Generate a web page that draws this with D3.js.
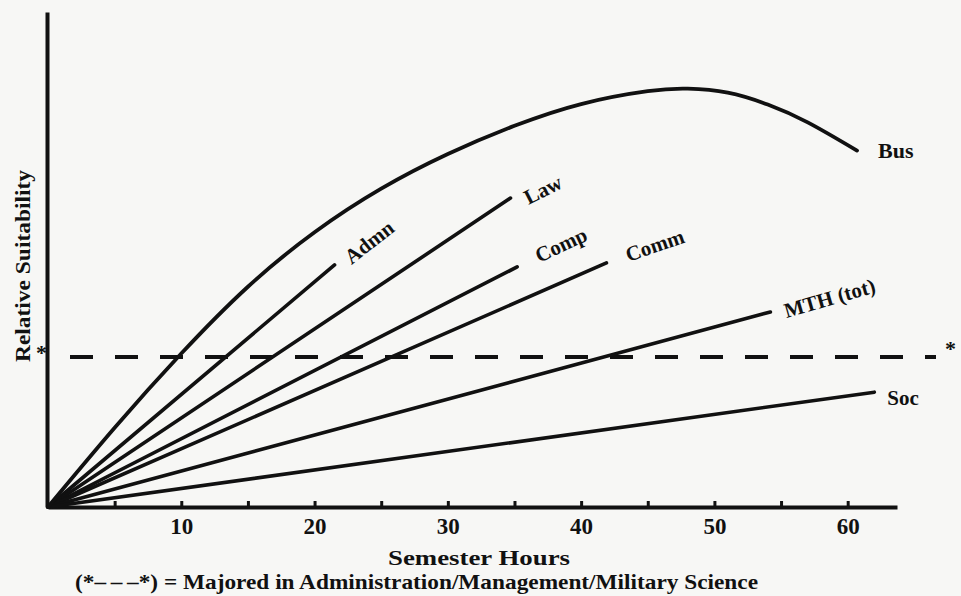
<!DOCTYPE html>
<html>
<head>
<meta charset="utf-8">
<script src="https://cdn.jsdelivr.net/npm/d3@7"></script>
<style>
  body { margin: 0; background: #f7f7f5; }
  svg { display: block; }
  text { font-family: "Liberation Serif", "DejaVu Serif", serif; font-weight: bold; fill: #111; }
</style>
</head>
<body>
<div id="chart"></div>
<script>
// semester hours vs relative suitability (arbitrary 0-100 units, axis has no numbers)
var hourTicks = [5, 10, 15, 20, 25, 30, 35, 40, 45, 50, 55, 60];
var hourLabels = [10, 20, 30, 40, 50, 60];

var busHours  = [0, 5, 10, 15, 20, 25, 30, 35, 40, 45, 48, 51, 54, 57, 60.7];
var busValues = [0, 16, 31, 44.5, 55.5, 64.3, 71.3, 77, 81.4, 84.0, 84.5, 83.7, 81.3, 77.7, 72];

// straight lines from the origin: name, last hour, last value
var lineNames  = ["Admn", "Law", "Comp", "Comm", "MTH (tot)", "Soc"];
var lineHours  = [21.5, 34.7, 35.2, 41.9, 54.2, 62.0];
var lineValues = [48.9, 62.4, 48.5, 49.3, 39.4, 23.2];

var majorLevel = 30.3; // (*---*) majored in admin/management/military science

var width = 961, height = 596;

var svg = d3.select("#chart").append("svg")
    .attr("width", width)
    .attr("height", height);

var x = d3.scaleLinear().domain([0, 63.7]).range([48, 897]);
var y = d3.scaleLinear().domain([0, 100]).range([507, 12]);

var line = d3.line()
    .x(function(d){ return x(d[0]); })
    .y(function(d){ return y(d[1]); });

// x axis, ticks point up, labels only every 10
var xAxis = d3.axisBottom(x)
    .tickValues(hourTicks)
    .tickSize(-6)
    .tickSizeOuter(0)
    .tickPadding(11)
    .tickFormat(function(d){ return hourLabels.indexOf(d) >= 0 ? d : ""; });

var gx = svg.append("g")
    .attr("transform", "translate(0," + y(0) + ")")
    .call(xAxis);
gx.select(".domain").attr("stroke", "#111").attr("stroke-width", 4);
gx.selectAll(".tick line").attr("stroke", "#111").attr("stroke-width", 3);
gx.selectAll(".tick text")
    .style("font-family", "'Liberation Serif', serif")
    .style("font-weight", "bold")
    .style("font-size", "23px")
    .attr("fill", "#111");

// y axis, bare line
var gy = svg.append("g")
    .attr("transform", "translate(" + (x(0) - 1) + ",0)")
    .call(d3.axisLeft(y).tickValues([]).tickSizeOuter(0));
gy.select(".domain").attr("stroke", "#111").attr("stroke-width", 4);

// dashed reference line
svg.append("line")
    .attr("x1", 70).attr("x2", 936)
    .attr("y1", y(majorLevel)).attr("y2", y(majorLevel))
    .attr("stroke", "#111")
    .attr("stroke-width", 4)
    .attr("stroke-dasharray", "23,22");

svg.append("text")
    .attr("x", 945).attr("y", y(majorLevel) - 1)
    .style("font-size", "22px")
    .text("*");
svg.append("text")
    .attr("x", 36).attr("y", y(majorLevel) + 3)
    .style("font-size", "22px")
    .text("*");

// straight series
lineNames.forEach(function(name, i){
    svg.append("path")
        .datum([[0, 0], [lineHours[i], lineValues[i]]])
        .attr("d", line)
        .attr("fill", "none")
        .attr("stroke", "#111")
        .attr("stroke-width", 3.6)
        .attr("stroke-linecap", "round");
});

// Bus curve
var busData = busHours.map(function(h, i){ return [h, busValues[i]]; });
svg.append("path")
    .datum(busData)
    .attr("d", line.curve(d3.curveNatural))
    .attr("fill", "none")
    .attr("stroke", "#111")
    .attr("stroke-width", 3.8)
    .attr("stroke-linecap", "round");

// labels at line ends (offset dx, dy, rotation)
var labelPlace = {
    "Admn":      [17, 0, -38],
    "Law":       [18, 7, -27],
    "Comp":      [22, -4, -25],
    "Comm":      [22, -1, -19],
    "MTH (tot)": [16, 6, -16],
    "Soc":       [13, 13, 0]
};
lineNames.forEach(function(name, i){
    var p = labelPlace[name];
    svg.append("text")
        .attr("transform", "translate(" + (x(lineHours[i]) + p[0]) + "," + (y(lineValues[i]) + p[1]) + ") rotate(" + p[2] + ")")
        .style("font-size", "21px")
        .text(name);
});
var busEnd = busData[busData.length - 1];
svg.append("text")
    .attr("x", x(busEnd[0]) + 21)
    .attr("y", y(busEnd[1]) + 7)
    .style("font-size", "22px")
    .text("Bus");

// axis titles
svg.append("text")
    .attr("transform", "translate(30,266) rotate(-90)")
    .attr("text-anchor", "middle")
    .attr("textLength", 192)
    .attr("lengthAdjust", "spacingAndGlyphs")
    .style("font-size", "21px")
    .text("Relative Suitability");

svg.append("text")
    .attr("x", 479).attr("y", 565)
    .attr("text-anchor", "middle")
    .attr("textLength", 182)
    .attr("lengthAdjust", "spacingAndGlyphs")
    .style("font-size", "21px")
    .text("Semester Hours");

svg.append("text")
    .attr("x", 75).attr("y", 589)
    .attr("textLength", 683)
    .attr("lengthAdjust", "spacingAndGlyphs")
    .style("font-size", "21px")
    .text("(*\u2013\u2009\u2013\u2009\u2013*) = Majored in Administration/Management/Military Science");
</script>
</body>
</html>
